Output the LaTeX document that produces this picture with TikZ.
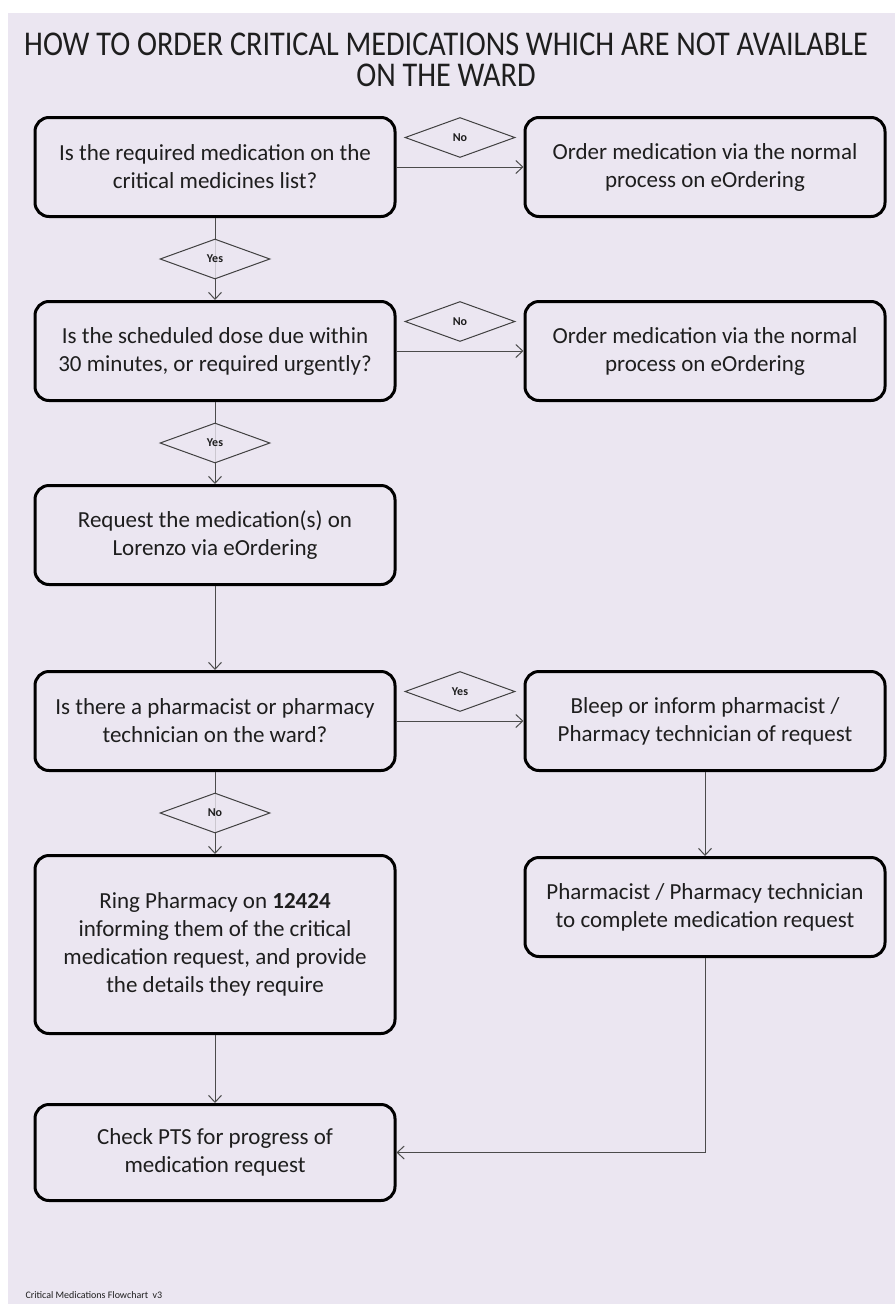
\documentclass[tikz,border=0pt]{standalone}
\usepackage{fontspec}
\setmainfont{Carlito}
\usetikzlibrary{positioning,shapes.geometric,arrows.meta}
\definecolor{wardbg}{RGB}{235,230,241}
\definecolor{ink}{RGB}{30,30,30}

\begin{document}
\begin{tikzpicture}[x=1pt,y=1pt,
  box/.style={rectangle, draw=black, line width=3pt, rounded corners=14pt, fill=wardbg,
              minimum width=360pt, minimum height=99pt, inner sep=0pt,
              font=\fontsize{23}{28}\selectfont, align=center, text=ink},
  decision/.style={diamond, draw=ink!85, line width=1pt, fill=wardbg, fill opacity=0.8,
              text opacity=1, minimum width=110pt, minimum height=40pt, inner sep=0pt,
              font=\fontsize{12}{14}\selectfont\bfseries, text=ink},
  arr/.style={-{Straight Barb[length=7pt,width=13pt]}, line width=1pt, draw=ink!80}
]
\useasboundingbox (0,0) rectangle (895,-1304);
\fill[wardbg] (8,-13) rectangle (895,-1304);

\node[align=center, text=ink, inner sep=0pt] (title) at (446,-60)
  {\scalebox{1}[1.15]{\fontsize{30.2}{31}\selectfont HOW TO ORDER CRITICAL MEDICATIONS WHICH ARE NOT AVAILABLE}\\[7pt]
   \scalebox{1}[1.15]{\fontsize{30.2}{31}\selectfont ON THE WARD}};

\node[box] (list) at (215,-167) {Is the required medication on the\\critical medicines list?};
\node[box, right=127pt of list] (norm1) {Order medication via the normal\\process on eOrdering};
\node[box, below=82pt of list] (due) {Is the scheduled dose due within\\30 minutes, or required urgently?};
\node[box, right=127pt of due] (norm2) {Order medication via the normal\\process on eOrdering};
\node[box, below=82pt of due] (req) {Request the medication(s) on\\Lorenzo via eOrdering};
\node[box, below=84pt of req] (onward) {Is there a pharmacist or pharmacy\\technician on the ward?};
\node[box, right=127pt of onward] (bleep) {Bleep or inform pharmacist /\\Pharmacy technician of request};
\node[box, below=82pt of onward, minimum height=178pt] (ring)
  {Ring Pharmacy on \textbf{12424}\\informing them of the critical\\medication request, and provide\\the details they require};
\node[box, below=84pt of bleep] (complete) {Pharmacist / Pharmacy technician\\to complete medication request};
\node[box, below=68pt of ring, minimum height=96pt] (pts) {Check PTS for progress of\\medication request};

\draw[arr] (list) -- (norm1) node[decision, midway, above=9pt] (noList) {No};
\draw[arr] (list) -- (due) node[decision, midway] (yesList) {Yes};
\draw[arr] (due) -- (norm2) node[decision, midway, above=9pt] (noDue) {No};
\draw[arr] (due) -- (req) node[decision, midway] (yesDue) {Yes};
\draw[arr] (req) -- (onward);
\draw[arr] (onward) -- (bleep) node[decision, midway, above=9pt] (yesWard) {Yes};
\draw[arr] (onward) -- (ring) node[decision, midway] (noWard) {No};
\draw[arr] (bleep) -- (complete);
\draw[arr] (ring) -- (pts);
\draw[arr] (complete.south) |- (pts.east);

\node[anchor=base west, font=\fontsize{10}{12}\selectfont, text=ink] (footer) at (22,-1298)
  {Critical Medications Flowchart\ \ v3};
\end{tikzpicture}
\end{document}
